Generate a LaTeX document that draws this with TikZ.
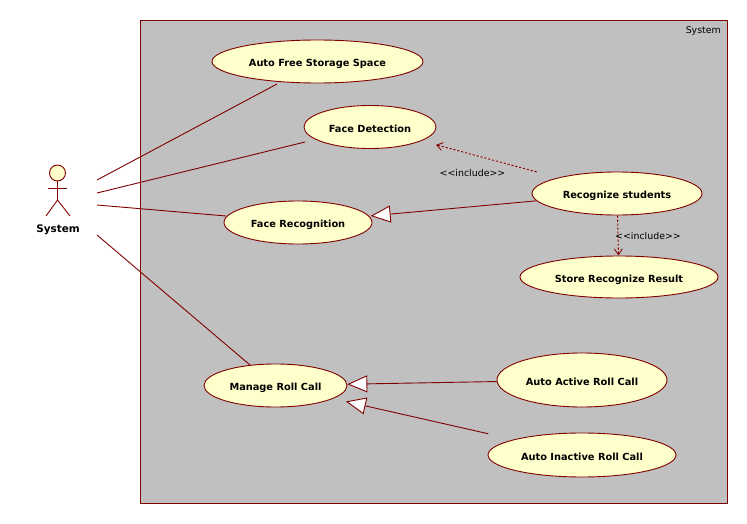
\documentclass[tikz,border=0pt]{standalone}
\usepackage{fontspec}
\setmainfont{DejaVu Sans}
\usetikzlibrary{shapes.geometric,arrows.meta}
\definecolor{umlline}{HTML}{800000}
\definecolor{umlfill}{HTML}{FFFFCC}
\definecolor{umlgray}{HTML}{C0C0C0}
\tikzset{
  usecase/.style={ellipse,draw=umlline,fill=umlfill,line width=.9pt,inner sep=0pt,
    text height=10.5pt,text depth=0pt,
    text=black,font=\bfseries\fontsize{9.8}{10}\selectfont},
  assoc/.style={draw=umlline,line width=.9pt},
  general/.style={draw=umlline,line width=.9pt,-{Triangle[fill=white,length=20pt,width=17pt]}},
  incl/.style={draw=umlline,line width=.9pt,dash pattern=on 2.5pt off 1.5pt,
    preaction={draw=white,-},-{Straight Barb[length=6pt,width=8pt,line width=.8pt]}},
  lbl/.style={text=black,inner sep=0pt,font=\fontsize{9.4}{10}\selectfont}
}
\begin{document}
\begin{tikzpicture}[x=1pt,y=-1pt]
\useasboundingbox (0,0) rectangle (747,524);
\fill[white] (0,0) rectangle (747,524);
\node[draw=umlline,fill=umlgray,line width=.9pt,minimum width=587pt,minimum height=483pt,inner sep=0pt] (sys) at (433.5,261.5) {};
\node[lbl,anchor=east] (syslabel) at (721,31) {System};
\node[usecase,minimum width=211pt,minimum height=43pt] (free) at (317.5,61.5) {Auto Free Storage Space};
\node[usecase,minimum width=132pt,minimum height=43pt] (fd) at (370,127) {Face Detection};
\node[usecase,minimum width=148pt,minimum height=43pt] (fr) at (298,222.5) {Face Recognition};
\node[usecase,minimum width=170pt,minimum height=43pt] (rs) at (617,193.5) {Recognize students};
\node[usecase,minimum width=198pt,minimum height=42pt] (store) at (619,277) {Store Recognize Result};
\node[usecase,minimum width=143pt,minimum height=43pt] (mr) at (275.5,385.5) {Manage Roll Call};
\node[usecase,minimum width=170pt,minimum height=54pt] (aa) at (582,380) {Auto Active Roll Call};
\node[usecase,minimum width=188pt,minimum height=44pt] (ai) at (582,455) {Auto Inactive Roll Call};
% actor
\node[circle,draw=umlline,fill=umlfill,line width=.9pt,minimum size=16pt,inner sep=0pt] (head) at (57.5,173) {};
\coordinate (hip) at (57.5,200);
\coordinate (arml) at (48,188);
\coordinate (armr) at (67,188);
\coordinate (legl) at (46,216);
\coordinate (legr) at (70,216);
\draw[assoc] (head) -- (hip);
\draw[assoc] (arml) -- (armr);
\draw[assoc] (legl) -- (hip) -- (legr);
\node[text=black,inner sep=0pt,font=\bfseries\fontsize{10.4}{11}\selectfont] (actor) at (58,229.5) {System};
% associations
\coordinate (s1) at (97,180);
\coordinate (s2) at (97,193);
\coordinate (s3) at (97,205);
\coordinate (s4) at (97,235);
\coordinate (e1) at (277,84);
\coordinate (e2) at (305,142);
\coordinate (e3) at (226,216);
\coordinate (e4) at (250,365);
\draw[assoc] (s1) -- (e1);
\draw[assoc] (s2) -- (e2);
\draw[assoc] (s3) -- (e3);
\draw[assoc] (s4) -- (e4);
% generalisations
\draw[general,shorten >=1.5pt] (rs) -- (fr);
\draw[general] (aa) -- (mr);
\draw[general,shorten <=26pt,shorten >=13pt] (ai) -- (mr);
% includes
\draw[incl,shorten <=22pt,shorten >=15pt] (rs) -- (fd);
\draw[incl] (rs) -- (store);
\node[lbl] (l1) at (472.5,173) {{<}{<}include{>}{>}};
\node[lbl] (l2) at (648,236) {{<}{<}include{>}{>}};
\end{tikzpicture}
\end{document}
